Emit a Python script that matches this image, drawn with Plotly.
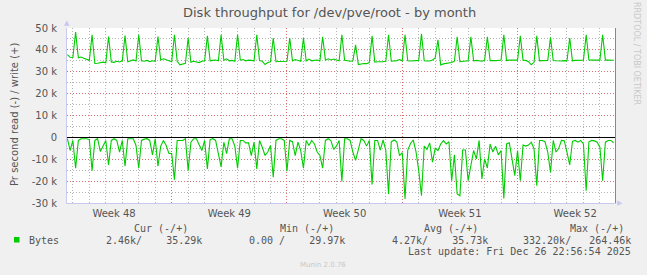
import plotly.graph_objects as go
import pandas as pd

# ---------------- data (values in thousands of bytes per second) ----------------
sample_start = "2025-11-24 16:00"
sample_freq = "4h"

write_k = [
    37.8, 36.6, 36.5, 48.1, 36.4, 36.7,
    36.2, 35.8, 35.2, 46.9, 33.8, 33.9,
    34.0, 34.4, 34.1, 46.1, 34.5, 34.3,
    34.8, 34.5, 35.0, 46.5, 34.6, 34.9,
    35.4, 34.9, 46.9, 35.0, 34.8, 35.2,
    34.6, 35.0, 34.8, 46.1, 35.4, 35.9,
    35.4, 35.1, 34.6, 46.9, 34.8, 33.2,
    33.6, 33.9, 45.4, 34.3, 34.8, 34.6,
    34.2, 34.8, 35.0, 46.4, 35.0, 35.2,
    35.4, 35.0, 46.9, 35.2, 35.9, 35.0,
    35.2, 34.8, 46.9, 35.3, 35.6, 35.0,
    35.3, 35.2, 35.0, 46.9, 35.1, 34.8,
    33.3, 34.2, 34.5, 45.4, 34.6, 34.7,
    34.8, 34.6, 34.8, 45.4, 35.0, 35.6,
    35.3, 34.8, 45.4, 34.9, 35.8, 35.0,
    35.2, 35.4, 35.0, 46.0, 35.3, 35.9,
    35.4, 35.8, 35.4, 35.0, 46.9, 35.2,
    35.0, 34.8, 35.0, 42.3, 33.3, 33.6,
    33.8, 33.7, 34.2, 46.4, 34.4, 34.6,
    34.5, 34.6, 34.8, 46.9, 34.8, 34.9,
    35.1, 35.6, 35.0, 46.9, 35.0, 34.9,
    35.1, 35.0, 35.2, 47.3, 35.0, 34.9,
    34.9, 35.4, 36.3, 44.6, 33.1, 33.6,
    33.8, 33.9, 34.2, 34.8, 46.0, 34.6,
    34.7, 34.9, 35.0, 46.0, 35.0, 35.2,
    35.0, 34.8, 35.2, 46.0, 35.1, 35.0,
    35.1, 35.2, 35.4, 46.9, 35.1, 35.3,
    35.3, 35.6, 35.3, 46.4, 35.3, 35.2,
    34.6, 33.2, 34.3, 46.4, 35.0, 35.1,
    35.0, 35.2, 45.7, 35.1, 35.0, 34.8,
    34.9, 35.1, 35.0, 45.4, 35.0, 35.2,
    35.2, 35.2, 35.3, 46.9, 35.4, 35.3,
    35.3, 35.3, 35.3, 46.9, 35.3, 35.3,
    35.3, 35.29,
]

read_k = [
    0.6, 6.0, 1.4, 14.1, 1.4, 0.6,
    0.6, 0.6, 1.0, 15.2, 1.4, 0.6,
    6.4, 3.7, 1.4, 12.6, 1.4, 0.6,
    1.4, 6.7, 1.4, 13.2, 0.6, 0.6,
    0.6, 3.7, 14.1, 1.4, 0.8, 0.6,
    1.4, 8.0, 0.6, 13.2, 4.0, 1.4,
    3.7, 7.4, 7.4, 19.3, 1.4, 1.4,
    1.4, 0.6, 15.2, 2.2, 0.6, 0.6,
    3.0, 6.0, 1.4, 14.4, 1.0, 0.6,
    1.4, 6.7, 13.5, 2.2, 7.4, 0.6,
    0.6, 4.0, 14.1, 1.4, 1.4, 2.5,
    2.5, 8.3, 2.2, 14.4, 1.4, 4.5,
    8.3, 6.7, 3.7, 18.2, 1.4, 0.6,
    0.6, 1.4, 15.5, 1.4, 2.0, 8.3,
    2.2, 6.0, 14.1, 1.4, 3.7, 1.4,
    3.0, 6.7, 8.3, 14.1, 1.4, 0.6,
    1.5, 5.5, 4.0, 1.4, 20.2, 0.6,
    0.6, 1.4, 6.7, 10.5, 6.0, 0.6,
    1.4, 4.0, 1.4, 21.5, 1.4, 1.4,
    5.8, 1.2, 5.8, 25.9, 2.0, 1.2,
    2.0, 8.3, 7.0, 28.2, 5.8, 2.8,
    1.2, 6.5, 15.2, 26.7, 4.0, 5.5,
    2.5, 11.3, 5.0, 6.0, 3.0, 1.5,
    3.0, 2.0, 19.8, 8.0, 25.9, 26.7,
    5.8, 5.8, 19.8, 13.0, 6.0, 9.8,
    1.4, 19.0, 9.8, 14.0, 3.0, 6.7,
    4.0, 8.0, 6.0, 27.9, 3.0, 2.5,
    9.8, 17.5, 6.0, 19.8, 3.5, 4.0,
    3.5, 2.2, 5.2, 22.1, 1.4, 1.4,
    2.0, 6.7, 16.0, 1.4, 6.7, 5.0,
    1.4, 1.5, 6.7, 12.6, 1.8, 1.4,
    2.2, 1.4, 3.0, 24.4, 2.0, 1.4,
    1.6, 2.2, 4.5, 19.8, 2.2, 1.4,
    1.4, 2.46,
]

x_range = ["2025-11-24 15:27", "2025-12-27 22:00"]
week_starts = ["2025-12-01", "2025-12-08", "2025-12-15", "2025-12-22"]
week_label_times = ["2025-11-27 12:00", "2025-12-04 12:00", "2025-12-11 12:00",
                    "2025-12-18 12:00", "2025-12-25 12:00"]
week_labels = ["Week 48", "Week 49", "Week 50", "Week 51", "Week 52"]

y_ticks = [-30, -20, -10, 0, 10, 20, 30, 40, 50]
y_tick_labels = ["-30 k", "-20 k", "-10 k", "0", "10 k", "20 k", "30 k", "40 k", "50 k"]
y_range = [-30, 50]

title_text = "Disk throughput for /dev/pve/root - by month"
y_title = "Pr second read (-) / write (+)"
series_name = "Bytes"
stat_headers = ["Cur (-/+)", "Min (-/+)", "Avg (-/+)", "Max (-/+)"]
stat_values = ["2.46k/    35.29k", "0.00 /    29.97k", "4.27k/    35.73k", "332.20k/   264.46k"]
last_update = "Last update: Fri Dec 26 22:56:54 2025"
side_text = "RRDTOOL / TOBI OETIKER"
footer_text = "Munin 2.0.76"

# ---------------- figure ----------------
W, H = 647, 275
L, R, T, B = 67, 32, 28, 72
PW, PH = W - L - R, H - T - B


def px(x):
    return (x - L) / PW


def py(y):
    return (H - B - y) / PH


GREEN = "#00CC00"
TEXT = "#555555"
SANS = "DejaVu Sans"
MONO = "DejaVu Sans Mono"

times = pd.date_range(sample_start, periods=len(write_k), freq=sample_freq)

fig = go.Figure()
fig.add_trace(go.Scatter(x=times, y=write_k, mode="lines",
                         line=dict(color=GREEN, width=1.1), name=series_name,
                         showlegend=False, hoverinfo="skip"))
fig.add_trace(go.Scatter(x=times, y=[-v for v in read_k], mode="lines",
                         line=dict(color=GREEN, width=1.1), name=series_name,
                         showlegend=False, hoverinfo="skip"))
# empty helper traces so the overlay axes are created
fig.add_trace(go.Scatter(x=[], y=[], xaxis="x2", yaxis="y", showlegend=False))
fig.add_trace(go.Scatter(x=[], y=[], xaxis="x", yaxis="y2", showlegend=False))

RED_GRID = "rgb(222,110,110)"
GREY_GRID = "rgb(180,180,180)"
DOTS = "1px,2px"

fig.update_layout(
    width=W, height=H,
    margin=dict(l=L, r=R, t=T, b=B),
    paper_bgcolor="#F0F0F0",
    plot_bgcolor="#FFFFFF",
    showlegend=False,
    xaxis=dict(
        type="date", range=x_range,
        tickvals=week_starts, showticklabels=False, ticks="",
        showgrid=True, gridcolor=RED_GRID, griddash=DOTS, gridwidth=1,
        minor=dict(dtick=86400000, showgrid=True, gridcolor=GREY_GRID,
                   griddash=DOTS, gridwidth=1),
        showline=True, linecolor="#C8C8F0", linewidth=1,
        zeroline=False, fixedrange=True,
    ),
    xaxis2=dict(
        type="date", range=x_range, overlaying="x", anchor="y", side="bottom",
        tickvals=week_label_times, ticktext=week_labels, ticks="",
        ticklabelstandoff=3,
        tickfont=dict(family=SANS, size=10, color=TEXT),
        showgrid=False, showline=False, zeroline=False, fixedrange=True,
    ),
    yaxis=dict(
        range=y_range, tickvals=y_ticks, ticktext=y_tick_labels, ticks="",
        ticklabelstandoff=7,
        tickfont=dict(family=SANS, size=10, color=TEXT),
        showgrid=True, gridcolor=RED_GRID, griddash=DOTS, gridwidth=1,
        minor=dict(dtick=5, showgrid=True, gridcolor=GREY_GRID,
                   griddash=DOTS, gridwidth=1),
        zeroline=True, zerolinecolor="#000000", zerolinewidth=1,
        showline=True, linecolor="#C8C8F0", linewidth=1,
        fixedrange=True,
    ),
    yaxis2=dict(
        range=y_range, overlaying="y", side="right", anchor="x",
        showticklabels=False, ticks="", showgrid=False, zeroline=False,
        showline=True, linecolor="#888888", linewidth=1, fixedrange=True,
    ),
)

ann = []
ann.append(dict(text=title_text, x=px(329.5), y=py(12), xref="paper", yref="paper",
                showarrow=False, xanchor="center", yanchor="middle",
                font=dict(family=SANS, size=13, color=TEXT)))
ann.append(dict(text=y_title, x=px(14), y=py(114), xref="paper", yref="paper",
                showarrow=False, textangle=-90, xanchor="center", yanchor="middle",
                font=dict(family=SANS, size=10, color=TEXT)))
ann.append(dict(text=side_text, x=px(637), y=py(53), xref="paper", yref="paper",
                showarrow=False, textangle=90, xanchor="center", yanchor="middle",
                font=dict(family=SANS, size=8, color="#C8C8C8")))
ann.append(dict(text="▲", x=px(67), y=py(23), xref="paper", yref="paper",
                showarrow=False, xanchor="center", yanchor="middle",
                font=dict(family=SANS, size=7, color="#C8C8F0")))
ann.append(dict(text="▶", x=px(620), y=py(203), xref="paper", yref="paper",
                showarrow=False, xanchor="center", yanchor="middle",
                font=dict(family=SANS, size=7, color="#C8C8F0")))

header_right = [189.5, 335.5, 480, 626]
value_right = [204, 346.7, 490, 632.7]
for hdr, hx in zip(stat_headers, header_right):
    ann.append(dict(text=hdr, x=px(hx), y=py(228), xref="paper", yref="paper",
                    showarrow=False, xanchor="right", yanchor="middle",
                    font=dict(family=MONO, size=10, color=TEXT)))
for val, vx in zip(stat_values, value_right):
    ann.append(dict(text=val.replace(" ", "&nbsp;"), x=px(vx), y=py(240),
                    xref="paper", yref="paper",
                    showarrow=False, xanchor="right", yanchor="middle",
                    font=dict(family=MONO, size=10, color=TEXT)))
ann.append(dict(text=series_name, x=px(27), y=py(240), xref="paper", yref="paper",
                showarrow=False, xanchor="left", yanchor="middle",
                font=dict(family=MONO, size=10, color=TEXT)))
ann.append(dict(text=last_update, x=px(632.7), y=py(251.5), xref="paper", yref="paper",
                showarrow=False, xanchor="right", yanchor="middle",
                font=dict(family=MONO, size=10, color=TEXT)))
ann.append(dict(text=footer_text, x=px(322.5), y=py(265), xref="paper", yref="paper",
                showarrow=False, xanchor="center", yanchor="middle",
                font=dict(family=SANS, size=7, color="#C8C8C8")))
fig.update_layout(annotations=ann)

fig.add_shape(type="rect", xref="paper", yref="paper",
              x0=px(14), x1=px(19.5), y0=py(242.5), y1=py(237),
              fillcolor=GREEN, line=dict(width=0))

fig.write_html("out.html")
